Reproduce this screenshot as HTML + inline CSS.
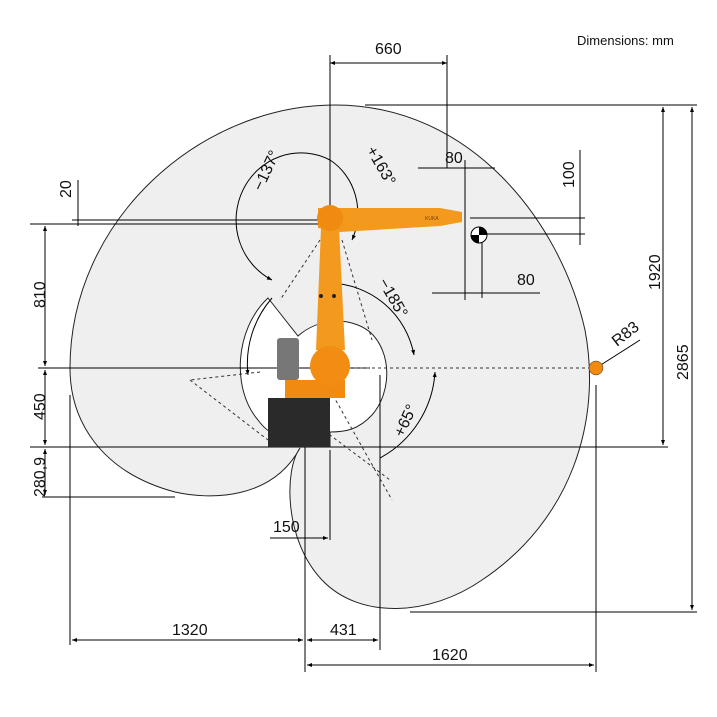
<!DOCTYPE html>
<html><head><meta charset="utf-8"><style>
html,body{margin:0;padding:0;background:#fff;}
svg{display:block;font-family:"Liberation Sans",sans-serif;}
</style></head><body>
<svg width="717" height="717" viewBox="0 0 717 717" xmlns="http://www.w3.org/2000/svg">
<defs>
<marker id="a" viewBox="0 0 10 10" refX="10" refY="5" markerWidth="7" markerHeight="5" orient="auto-start-reverse"><path d="M0,1 L10,5 L0,9 z" fill="#000"/></marker>
</defs>
<rect width="717" height="717" fill="#fff"/>
<path d="M300,448 C272,500 210,500 175,492 C100,472 70,420 70,368 C70,220 200,105 335,105 C470,105 560,220 585,330 C602,420 572,520 482,580 C430,616 360,620 322,580 C284,540 284,470 300,448 Z" fill="#efefef" stroke="#222" stroke-width="1"/>
<path d="M268,298 L298,336 C318,318 350,316 370,332 C392,352 392,392 372,415 C358,430 345,432 330,432 L330,447 C300,447 272,440 258,420 C232,390 234,330 268,298 Z" fill="#fff" stroke="#222" stroke-width="1"/>
<g stroke="#000" stroke-width="1" fill="none">
<line x1="330" y1="55" x2="330" y2="220"/>
<line x1="447" y1="55" x2="447" y2="168"/>
<line x1="330" y1="63" x2="447" y2="63" marker-start="url(#a)" marker-end="url(#a)"/>
<line x1="365" y1="105" x2="697" y2="105"/>
<line x1="663" y1="107" x2="663" y2="445" marker-start="url(#a)" marker-end="url(#a)"/>
<line x1="692" y1="107" x2="692" y2="610" marker-start="url(#a)" marker-end="url(#a)"/>
<line x1="30" y1="447" x2="668" y2="447"/>
<line x1="410" y1="612" x2="697" y2="612"/>
<line x1="596" y1="368" x2="640" y2="340"/>
<line x1="580" y1="150" x2="580" y2="245"/>
<line x1="470" y1="218" x2="585" y2="218"/>
<line x1="479" y1="234" x2="585" y2="234"/>
<line x1="418" y1="168" x2="495" y2="168"/>
<line x1="465" y1="160" x2="465" y2="300"/>
<line x1="432" y1="293" x2="540" y2="293"/>
<line x1="482" y1="235" x2="482" y2="298"/>
<line x1="78" y1="180" x2="78" y2="226"/>
<line x1="72" y1="220" x2="357" y2="220"/>
<line x1="30" y1="224" x2="345" y2="224"/>
<line x1="45" y1="226" x2="45" y2="366" marker-start="url(#a)" marker-end="url(#a)"/>
<line x1="38" y1="368" x2="370" y2="368"/>
<line x1="45" y1="370" x2="45" y2="445" marker-start="url(#a)" marker-end="url(#a)"/>
<line x1="45" y1="449" x2="45" y2="495" marker-start="url(#a)" marker-end="url(#a)"/>
<line x1="42" y1="497" x2="175" y2="497"/>
<line x1="70" y1="395" x2="70" y2="645"/>
<line x1="72" y1="640" x2="303" y2="640" marker-start="url(#a)" marker-end="url(#a)"/>
<line x1="307" y1="640" x2="378" y2="640" marker-start="url(#a)" marker-end="url(#a)"/>
<line x1="305" y1="447" x2="305" y2="672"/>
<line x1="380" y1="375" x2="380" y2="650"/>
<line x1="596" y1="385" x2="596" y2="672"/>
<line x1="307" y1="665" x2="594" y2="665" marker-start="url(#a)" marker-end="url(#a)"/>
<line x1="270" y1="538" x2="328" y2="538" marker-end="url(#a)"/>
<line x1="330" y1="450" x2="330" y2="540"/>
<path d="M330,160 A60,62 0 1 0 272,280" marker-end="url(#a)"/>
<path d="M330,160 A58,62 0 0 1 352,240" marker-end="url(#a)"/>
<path d="M272,298 A100,100 0 0 0 248,375" marker-end="url(#a)"/>
<path d="M330,283 A88,88 0 0 1 414,355" marker-end="url(#a)"/>
<path d="M435,372 A105,105 0 0 1 380,458" marker-start="url(#a)"/>
</g>
<g stroke="#333" stroke-width="1" fill="none" stroke-dasharray="3,3">
<line x1="320" y1="240" x2="280" y2="300"/>
<line x1="342" y1="240" x2="372" y2="340"/>
<line x1="330" y1="368" x2="596" y2="368"/>
<line x1="260" y1="372" x2="190" y2="380"/>
<line x1="190" y1="380" x2="268" y2="440"/>
<line x1="330" y1="390" x2="392" y2="500"/>
<line x1="310" y1="420" x2="390" y2="480"/>
</g>
<circle cx="479" cy="235" r="8" fill="#fff" stroke="#000"/>
<path d="M479,235 L479,227 A8,8 0 0 1 487,235 Z M479,235 L479,243 A8,8 0 0 1 471,235 Z" fill="#000"/>
<rect x="268" y="398" width="62" height="49" fill="#2a2a2a"/>
<rect x="277" y="338" width="22" height="42" rx="3" fill="#777"/>
<path d="M285,380 L345,380 L345,398 L285,398 Z" fill="#f08a10"/>
<path d="M321,228 L339,228 L345,350 L316,350 Z" fill="#f39a1e"/>
<circle cx="330" cy="366" r="20" fill="#f28c12"/>
<path d="M318,208 L440,208 L462,212 L462,222 L440,226 L340,232 L318,228 Z" fill="#f39a1e"/>
<circle cx="330" cy="218" r="13" fill="#f08a10"/>
<text x="425" y="220" font-size="5" fill="#7a3e00">KUKA</text>
<circle cx="321" cy="296" r="2" fill="#222"/><circle cx="334" cy="296" r="2" fill="#222"/>
<circle cx="596" cy="368" r="7" fill="#f08a10" stroke="#333" stroke-width="0.5"/>
<g font-size="16" fill="#111">
<text x="577" y="45" font-size="13">Dimensions: mm</text>
<text x="375" y="54">660</text>
<text x="445" y="163">80</text>
<text x="517" y="285">80</text>
<text x="172" y="635">1320</text>
<text x="330" y="635">431</text>
<text x="432" y="660">1620</text>
<text x="273" y="532">150</text>
<text transform="translate(574,188) rotate(-90)">100</text>
<text transform="translate(71,198) rotate(-90)">20</text>
<text transform="translate(45,308) rotate(-90)">810</text>
<text transform="translate(45,420) rotate(-90)">450</text>
<text transform="translate(45,497) rotate(-90)">280,9</text>
<text transform="translate(660,290) rotate(-90)">1920</text>
<text transform="translate(688,380) rotate(-90)">2865</text>
<text transform="translate(617,347) rotate(-38)">R83</text>
<text transform="translate(262,192) rotate(-65)">−137°</text>
<text transform="translate(366,150) rotate(60)">+163°</text>
<text transform="translate(378,282) rotate(60)">−185°</text>
<text transform="translate(403,438) rotate(-65)">+65°</text>
</g>
</svg>
</body></html>
